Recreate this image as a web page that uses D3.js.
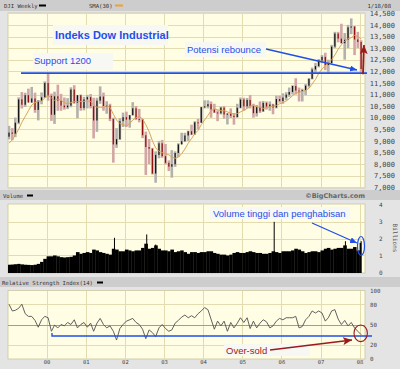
<!DOCTYPE html>
<html>
<head>
<meta charset="UTF-8">
<style>
body{
	margin: 0;
	background: #d4d4d4;
}
svg{
	display: block;
}
.band-label{
	font-family: "DejaVu Sans Mono", monospace;
	font-size: 5.6px;
	fill: #333;
}
.axis text{
	font-family: "DejaVu Sans Mono", monospace;
	fill: #444;
}
.axis path, .axis line{
	display: none;
}
.grid line{
	stroke: #e2dcb0;
	stroke-width: 1;
	shape-rendering: crispEdges;
}
.note{
	font-family: "Liberation Sans", Arial, sans-serif;
	font-size: 9.5px;
	fill: #1f4fe8;
}
.note-box{
	fill: #f7f7f4;
}
</style>
<script src="https://cdn.jsdelivr.net/npm/d3@7/dist/d3.min.js"></script>
</head>
<body>
<script>
// monthly readings, Jan 1999 .. Jan 2008
var startYear = 1999;

var priceHigh = [9647, 9552, 10007, 10878, 11107, 11076, 11253, 11326, 11079, 10760, 11089, 11568,
	11900, 11041, 11120, 11425, 11026, 10870, 10843, 11310, 11401, 10983, 11000, 10900,
	10983, 11019, 10860, 10860, 11350, 11080, 10710, 10600, 10000, 9550, 9980, 10220,
	10260, 10120, 10670, 10500, 10380, 9950, 9400, 9080, 8700, 8550, 9000, 9040,
	8870, 8160, 8600, 8550, 8900, 9350, 9350, 9440, 9700, 9850, 9950, 10460,
	10750, 10750, 10700, 10600, 10320, 10480, 10500, 10200, 10400, 10200, 10600, 10870,
	10860, 10850, 10980, 10600, 10550, 10700, 10720, 10700, 10700, 10600, 10950, 10950,
	11050, 11100, 11300, 11400, 11700, 11300, 11250, 11450, 11700, 12160, 12360, 12530,
	12700, 12800, 12500, 13140, 13700, 13700, 14050, 13650, 14000, 14280, 13950, 13700,
	13340];

var priceLow = [9064, 9028, 9163, 9719, 10396, 10466, 10655, 10646, 10213, 9884, 10580, 10850,
	10731, 9862, 9731, 10300, 10300, 10345, 10370, 10450, 10600, 9975, 10300, 10318,
	10400, 10400, 9106, 9390, 10600, 10300, 10170, 9850, 8062, 8700, 9040, 9600,
	9600, 9570, 10100, 9900, 9800, 9120, 7532, 8000, 7550, 7197, 8250, 8270,
	7990, 7700, 7416, 7880, 8300, 8850, 8950, 9000, 9250, 9270, 9500, 9780,
	10400, 10400, 10000, 10200, 9850, 10140, 9960, 9710, 9990, 9700, 10000, 10400,
	10300, 10400, 10400, 10000, 10050, 10200, 10250, 10350, 10300, 10150, 10400, 10650,
	10600, 10750, 10900, 11000, 11000, 10700, 10700, 10970, 11300, 11650, 11950, 12170,
	12350, 12050, 11939, 12350, 13000, 13250, 13200, 12500, 13000, 13600, 12700, 13000,
	11940];

var priceOpen = [9181, 9359, 9307, 9786, 10789, 10560, 10971, 10655, 10829, 10337, 10729, 10878,
	11497, 10941, 10128, 10922, 10734, 10522, 10448, 10522, 11215, 10651, 10971, 10415,
	10787, 10887, 10495, 9879, 10735, 10912, 10502, 10523, 9950, 8848, 9075, 9852,
	10022, 9920, 10106, 10404, 9946, 9925, 9243, 8737, 8664, 7592, 8397, 8896,
	8342, 8054, 7891, 7992, 8480, 8850, 8985, 9234, 9416, 9275, 9801, 9782,
	10454, 10488, 10584, 10358, 10226, 10188, 10435, 10140, 10174, 10080, 10027, 10428,
	10783, 10490, 10766, 10504, 10193, 10467, 10275, 10641, 10482, 10569, 10440, 10806,
	10718, 10865, 10993, 11109, 11367, 11168, 11150, 11186, 11381, 11679, 12081, 12222,
	12463, 12622, 12269, 12354, 13063, 13628, 13409, 13212, 13358, 13896, 13930, 13372,
	13265];

var priceClose = [9359, 9307, 9786, 10789, 10560, 10971, 10655, 10829, 10337, 10729, 10878, 11497,
	10941, 10128, 10922, 10734, 10522, 10448, 10522, 11215, 10651, 10971, 10415, 10787,
	10887, 10495, 9879, 10735, 10912, 10502, 10523, 9950, 8848, 9075, 9852, 10022,
	9920, 10106, 10404, 9946, 9925, 9243, 8737, 8664, 7592, 8397, 8896, 8342,
	8054, 7891, 7992, 8480, 8850, 8985, 9234, 9416, 9275, 9801, 9782, 10454,
	10488, 10584, 10358, 10226, 10188, 10435, 10140, 10174, 10080, 10027, 10428, 10783,
	10490, 10766, 10504, 10193, 10467, 10275, 10641, 10482, 10569, 10440, 10806, 10718,
	10865, 10993, 11109, 11367, 11168, 11150, 11186, 11381, 11679, 12081, 12222, 12463,
	12622, 12269, 12354, 13063, 13628, 13409, 13212, 13358, 13896, 13930, 13372, 13265,
	12099];

var sma30 = [8900, 9050, 9250, 9500, 9800, 10050, 10300, 10550, 10650, 10700, 10720, 10850,
	10950, 10850, 10750, 10800, 10750, 10650, 10600, 10650, 10700, 10700, 10700, 10700,
	10720, 10700, 10550, 10450, 10450, 10450, 10500, 10450, 10150, 9900, 9750, 9700,
	9650, 9750, 9900, 10000, 10050, 9950, 9700, 9400, 9000, 8700, 8550, 8500,
	8450, 8400, 8300, 8250, 8300, 8450, 8650, 8900, 9100, 9300, 9450, 9700,
	9900, 10100, 10300, 10380, 10350, 10300, 10300, 10250, 10200, 10150, 10180, 10250,
	10320, 10400, 10500, 10520, 10470, 10450, 10400, 10430, 10470, 10500, 10530, 10600,
	10650, 10720, 10820, 10950, 11050, 11100, 11130, 11180, 11270, 11450, 11650, 11900,
	12100, 12250, 12350, 12500, 12700, 12950, 13150, 13300, 13400, 13450, 13550, 13500,
	13400];

// billions of shares
var volume = [0.45, 0.46, 0.48, 0.50, 0.47, 0.45, 0.44, 0.43, 0.45, 0.50, 0.62, 0.80,
	0.95, 0.95, 1.00, 0.95, 0.90, 0.88, 0.90, 0.92, 1.00, 1.20, 1.10, 1.15,
	1.20, 1.15, 1.35, 1.30, 1.20, 1.15, 1.10, 1.05, 1.40, 1.35, 1.25, 1.25,
	1.35, 1.30, 1.25, 1.30, 1.30, 1.45, 1.70, 1.40, 1.45, 1.60, 1.40, 1.30,
	1.30, 1.25, 1.35, 1.20, 1.25, 1.30, 1.20, 1.10, 1.20, 1.20, 1.15, 1.20,
	1.20, 1.25, 1.25, 1.15, 1.10, 1.05, 1.05, 1.00, 1.05, 1.15, 1.20, 1.15,
	1.15, 1.20, 1.25, 1.20, 1.15, 1.15, 1.10, 1.10, 1.15, 1.25, 1.20, 1.15,
	1.25, 1.25, 1.25, 1.30, 1.40, 1.35, 1.25, 1.15, 1.20, 1.25, 1.25, 1.20,
	1.30, 1.40, 1.45, 1.35, 1.40, 1.45, 1.45, 1.60, 1.40, 1.40, 1.50, 1.30,
	1.75];

var spikeDates = ["2001-09-21", "2002-07-19", "2002-10-11", "2005-10-21", "2007-08-17", "2008-01-11"];
var spikeValues = [2.05, 2.25, 1.65, 3.0, 1.85, 1.85];

var rsi14 = [80, 70, 71, 74, 80, 66, 62, 62, 56, 46, 57, 62,
	60, 40, 49, 45, 50, 48, 53, 50, 57, 45, 50, 53,
	46, 52, 40, 52, 59, 50, 45, 48, 40, 27, 44, 50,
	55, 57, 59, 53, 50, 43, 29, 42, 38, 32, 45, 50,
	44, 40, 42, 52, 56, 61, 64, 60, 63, 60, 66, 70,
	75, 72, 58, 43, 55, 48, 55, 40, 53, 45, 52, 60,
	53, 60, 44, 55, 45, 52, 57, 54, 45, 48, 55, 59,
	57, 60, 60, 60, 62, 45, 47, 57, 62, 70, 67, 70,
	67, 55, 60, 70, 72, 58, 50, 56, 48, 53, 45, 40, 35];

var priceTicks = [7000, 7500, 8000, 8500, 9000, 9500, 10000, 10500, 11000, 11500, 12000, 12500, 13000, 13500, 14000, 14500];
var volumeTicks = [0, 1, 2, 3, 4];
var rsiTicks = [0, 20, 50, 80, 100];
var yearTicks = [2000, 2001, 2002, 2003, 2004, 2005, 2006, 2007, 2008];

var supportLevel = 11920;
var oversoldLevel = 33;

var blue = "#1f4fe8", darkRed = "#9b1b1b";

var months = priceClose.map(function(d, i){ return new Date(Date.UTC(startYear, i, 1)); });
var midMonths = priceClose.map(function(d, i){ return new Date(Date.UTC(startYear, i, 15)); });
var yearDates = yearTicks.map(function(y){ return new Date(Date.UTC(y, 0, 1)); });

var plotL = 8, plotR = 365;

var x = d3.scaleUtc()
	.domain([new Date(Date.UTC(1999, 0, 1)), new Date(Date.UTC(2008, 0, 1))])
	.range([7.5, 359.6]);

var yPrice = d3.scaleLinear().domain([7000, 14500]).range([187.3, 13.3]);
var yVol = d3.scaleLinear().domain([0, 4]).range([272.3, 205]);
var yRsi = d3.scaleLinear().domain([0, 100]).range([358.3, 290.7]);

var svg = d3.select("body").append("svg")
	.attr("width", 400)
	.attr("height", 369);

var defs = svg.append("defs");

// background bands and panel frames
var frames = [
	{y: 0, h: 11, fill: "#cdcdcd"},
	{y: 11, h: 179, fill: "#e4e4e4"},
	{y: 190, h: 10, fill: "#cdcdcd"},
	{y: 200, h: 77, fill: "#e4e4e4"},
	{y: 277, h: 10, fill: "#cdcdcd"},
	{y: 287, h: 82, fill: "#e4e4e4"}
];
svg.selectAll("rect.frame")
	.data(frames)
	.enter().append("rect")
	.attr("class", "frame")
	.attr("x", 0)
	.attr("y", function(d){ return d.y; })
	.attr("width", 400)
	.attr("height", function(d){ return d.h; })
	.attr("fill", function(d){ return d.fill; });

function makePanel(name, top, bottom, yScale, ticks){
	defs.append("clipPath").attr("id", "clip-" + name)
		.append("rect")
		.attr("x", plotL).attr("y", top)
		.attr("width", plotR - plotL).attr("height", bottom - top);

	svg.append("rect")
		.attr("x", plotL).attr("y", top)
		.attr("width", plotR - plotL).attr("height", bottom - top)
		.attr("fill", "#fffde3")
		.attr("stroke", "#cbc6a4")
		.attr("stroke-width", 0.8);

	var g = svg.append("g").attr("clip-path", "url(#clip-" + name + ")");
	var grid = g.append("g").attr("class", "grid");
	grid.selectAll("line.h")
		.data(ticks)
		.enter().append("line")
		.attr("class", "h")
		.attr("x1", plotL).attr("x2", plotR)
		.attr("y1", function(d){ return Math.round(yScale(d)) + 0.5; })
		.attr("y2", function(d){ return Math.round(yScale(d)) + 0.5; });
	grid.selectAll("line.v")
		.data(yearDates)
		.enter().append("line")
		.attr("class", "v")
		.attr("y1", top).attr("y2", bottom)
		.attr("x1", function(d){ return Math.round(x(d)) + 0.5; })
		.attr("x2", function(d){ return Math.round(x(d)) + 0.5; });
	return g;
}

// ---------- price panel ----------
var pricePlot = makePanel("price", 13, 188, yPrice, priceTicks);

// month range (light) with the open-close run drawn darker
var bars = pricePlot.append("g")
	.selectAll("g")
	.data(priceClose)
	.enter().append("g");

bars.append("rect")
	.attr("x", function(d, i){ return x(midMonths[i]) - 1.3; })
	.attr("width", 2.6)
	.attr("y", function(d, i){ return yPrice(priceHigh[i]); })
	.attr("height", function(d, i){ return yPrice(priceLow[i]) - yPrice(priceHigh[i]); })
	.attr("fill", function(d, i){ return d >= priceOpen[i] ? "#b4b0ae" : "#d2a6a6"; });

bars.append("rect")
	.attr("x", function(d, i){ return x(midMonths[i]) - 0.6; })
	.attr("width", 1.2)
	.attr("y", function(d, i){ return yPrice(Math.max(d, priceOpen[i])); })
	.attr("height", function(d, i){ return Math.max(1, Math.abs(yPrice(d) - yPrice(priceOpen[i]))); })
	.attr("fill", function(d, i){ return d >= priceOpen[i] ? "#111" : "#8e1010"; });

pricePlot.append("path")
	.datum(sma30)
	.attr("fill", "none")
	.attr("stroke", "#d9a45a")
	.attr("stroke-width", 1)
	.attr("d", d3.line()
		.x(function(d, i){ return x(midMonths[i]); })
		.y(function(d){ return yPrice(d); }));

svg.append("g")
	.attr("class", "axis")
	.attr("transform", "translate(395,0)")
	.call(d3.axisLeft(yPrice).tickValues(priceTicks).tickSize(0).tickPadding(0).tickFormat(d3.format(",")))
	.selectAll("text").attr("font-size", 7);

// ---------- volume panel ----------
var volPlot = makePanel("vol", 204, 273, yVol, [1, 2, 3]);

volPlot.append("g")
	.selectAll("rect")
	.data(volume)
	.enter().append("rect")
	.attr("x", function(d, i){ return x(months[i]); })
	.attr("width", function(d, i){
		var end = i < volume.length - 1 ? months[i + 1] : new Date(Date.UTC(2008, 0, 12));
		return x(end) - x(months[i]) + 0.3;
	})
	.attr("y", function(d){ return yVol(d); })
	.attr("height", function(d){ return yVol(0) - yVol(d) + 1; })
	.attr("fill", "#000");

volPlot.append("g")
	.selectAll("rect")
	.data(spikeValues)
	.enter().append("rect")
	.attr("x", function(d, i){ return x(new Date(spikeDates[i])); })
	.attr("width", 1)
	.attr("y", function(d){ return yVol(d); })
	.attr("height", function(d){ return yVol(0) - yVol(d) + 1; })
	.attr("fill", "#000");

svg.append("g")
	.attr("class", "axis")
	.attr("transform", "translate(379,0)")
	.call(d3.axisRight(yVol).tickValues(volumeTicks).tickSize(0).tickPadding(0).tickFormat(d3.format("d")))
	.selectAll("text").attr("font-size", 6);

svg.append("text")
	.attr("transform", "translate(393,238) rotate(90)")
	.attr("text-anchor", "middle")
	.attr("class", "band-label")
	.style("font-size", "6px")
	.style("fill", "#555")
	.text("Billions");

// ---------- RSI panel ----------
var rsiPlot = makePanel("rsi", 290.5, 359, yRsi, [20, 80]);

rsiPlot.append("line")
	.attr("x1", plotL).attr("x2", plotR)
	.attr("y1", Math.round(yRsi(50)) + 0.5).attr("y2", Math.round(yRsi(50)) + 0.5)
	.attr("stroke", "#a09e90").attr("stroke-width", 1);

rsiPlot.append("path")
	.datum(rsi14)
	.attr("fill", "none")
	.attr("stroke", "#505050")
	.attr("stroke-width", 0.9)
	.attr("d", d3.line()
		.x(function(d, i){ return x(months[i]) + 1.5; })
		.y(function(d){ return yRsi(d); }));

svg.append("g")
	.attr("class", "axis")
	.attr("transform", "translate(370,0)")
	.call(d3.axisRight(yRsi).tickValues(rsiTicks).tickSize(0).tickPadding(0))
	.selectAll("text").attr("font-size", 5.8);

svg.append("g")
	.attr("class", "axis")
	.attr("transform", "translate(0,360)")
	.call(d3.axisBottom(x).tickValues(yearDates).tickSize(0).tickPadding(0).tickFormat(d3.utcFormat("%y")))
	.selectAll("text").attr("font-size", 5.5);

// ---------- band labels ----------
svg.append("text").attr("class", "band-label").attr("x", 4).attr("y", 7.5).text("DJI Weekly");
svg.append("rect").attr("x", 39).attr("y", 4.5).attr("width", 7).attr("height", 2).attr("fill", "#000");
svg.append("text").attr("class", "band-label").attr("x", 89).attr("y", 7.5).text("SMA(30)");
svg.append("rect").attr("x", 115).attr("y", 4.5).attr("width", 8).attr("height", 2).attr("fill", "#f0a030");
svg.append("text").attr("class", "band-label").attr("x", 391).attr("y", 7.5).attr("text-anchor", "end").text("1/18/08");

svg.append("text").attr("class", "band-label").attr("x", 3).attr("y", 197.5).text("Volume");
svg.append("rect").attr("x", 27).attr("y", 194.5).attr("width", 6).attr("height", 2).attr("fill", "#000");
svg.append("text")
	.attr("x", 365).attr("y", 198)
	.attr("text-anchor", "end")
	.style("font-family", "'DejaVu Sans', sans-serif")
	.style("font-size", "6.5px")
	.style("font-weight", "bold")
	.style("fill", "#666")
	.text("\u00a9BigCharts.com");

svg.append("text").attr("class", "band-label").attr("x", 2).attr("y", 284.5).text("Relative Strength Index(14)");
svg.append("rect").attr("x", 97).attr("y", 281.5).attr("width", 6).attr("height", 2).attr("fill", "#000");

// ---------- annotations ----------
function marker(id, color, path, w, h, refX, refY){
	defs.append("marker")
		.attr("id", id)
		.attr("markerUnits", "userSpaceOnUse")
		.attr("markerWidth", w).attr("markerHeight", h)
		.attr("refX", refX).attr("refY", refY)
		.attr("orient", "auto")
		.append("path")
		.attr("d", path)
		.attr("fill", color);
}
marker("arrow-blue", blue, "M0,0 L7,3 L0,6 Z", 7, 6, 7, 3);
marker("arrow-red", darkRed, "M0,0 L9,4 L0,8 L2,4 Z", 9, 8, 9, 4);

function note(x0, y0, w, h, tx, ty, str, color){
	svg.append("rect").attr("class", "note-box")
		.attr("x", x0).attr("y", y0).attr("width", w).attr("height", h);
	return svg.append("text").attr("class", "note")
		.attr("x", tx).attr("y", ty)
		.style("fill", color || blue)
		.text(str);
}

note(53, 25, 115, 20, 55, 39, "Indeks Dow Industrial")
	.style("font-size", "11px").style("font-weight", "bold");

note(33, 53, 80, 17, 34, 64, "Support 1200");

svg.append("line")
	.attr("x1", 21).attr("x2", 367)
	.attr("y1", yPrice(supportLevel)).attr("y2", yPrice(supportLevel))
	.attr("stroke", blue).attr("stroke-width", 1.6);

note(185, 42, 81, 15, 187, 53, "Potensi rebounce");

svg.append("line")
	.attr("x1", 266).attr("y1", 49).attr("x2", 357).attr("y2", 70)
	.attr("stroke", blue).attr("stroke-width", 1.3)
	.attr("marker-end", "url(#arrow-blue)");

svg.append("line")
	.attr("x1", 363).attr("y1", yPrice(supportLevel) + 1).attr("x2", 364).attr("y2", 45)
	.attr("stroke", darkRed).attr("stroke-width", 1.8)
	.attr("marker-end", "url(#arrow-red)");

note(210, 207, 140, 12, 213, 216.5, "Volume tinggi dan penghabisan");

svg.append("line")
	.attr("x1", 312).attr("y1", 223).attr("x2", 357).attr("y2", 243)
	.attr("stroke", blue).attr("stroke-width", 1.2)
	.attr("marker-end", "url(#arrow-blue)");

svg.append("ellipse")
	.attr("cx", 361).attr("cy", 246).attr("rx", 3.5).attr("ry", 9.5)
	.attr("fill", "none").attr("stroke", blue).attr("stroke-width", 1.2);

svg.append("polyline")
	.attr("points", [[52, yRsi(oversoldLevel) - 3], [52, yRsi(oversoldLevel)], [372, yRsi(oversoldLevel)]].join(" "))
	.attr("fill", "none").attr("stroke", blue).attr("stroke-width", 1.4);

note(224, 344, 86, 12, 226, 353.5, "Over-sold", darkRed);

svg.append("line")
	.attr("x1", 270).attr("y1", 350).attr("x2", 352).attr("y2", 340)
	.attr("stroke", darkRed).attr("stroke-width", 1.4)
	.attr("marker-end", "url(#arrow-red)");

svg.append("ellipse")
	.attr("cx", 360.7).attr("cy", 333.3).attr("rx", 6.7).attr("ry", 8.3)
	.attr("fill", "none").attr("stroke", darkRed).attr("stroke-width", 1.1);
</script>
</body>
</html>
